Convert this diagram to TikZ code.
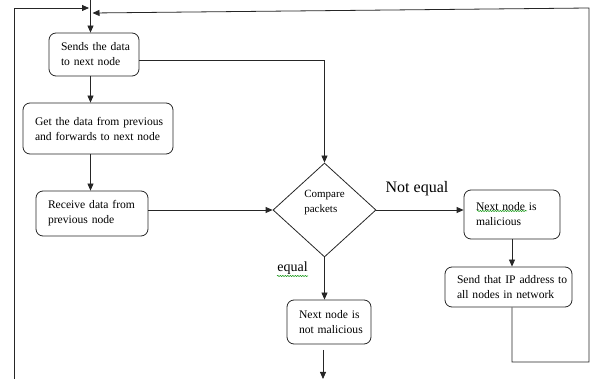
\documentclass[tikz,border=0pt]{standalone}
\usepackage{fontspec}
\setmainfont{Liberation Serif}
\usetikzlibrary{arrows.meta,shapes.geometric,decorations.pathmorphing}

\tikzset{
  flowbox/.style={draw=black!85, line width=0.8pt, rounded corners=7pt,
    align=left, inner xsep=12pt, inner ysep=0pt,
    font=\fontsize{11.6}{15}\selectfont},
  decision/.style={draw=black!85, line width=0.8pt, diamond, inner sep=0pt,
    align=left, font=\fontsize{11}{15}\selectfont},
  link/.style={draw=black!85, line width=0.8pt},
  flow/.style={link, -{Triangle[length=7pt,width=6pt]}},
  edgetext/.style={inner sep=0pt},
  spellmark/.style={draw=green!55!black, line width=0.5pt,
    decorate, decoration={snake, amplitude=0.6pt, segment length=2.5pt}}
}
% one unbreakable line of box text
\newcommand{\boxline}[1]{\mbox{#1}}

\begin{document}
\begin{tikzpicture}[x=1pt,y=-1pt]
  \useasboundingbox (0,0) rectangle (592,379);

  % process boxes
  \node[flowbox, text width=66pt, minimum height=43pt] (send)
    at (94,54.5) {\boxline{Sends the data}\\\boxline{to next node}};
  \node[flowbox, text width=126pt, minimum height=51pt] (fwd)
    at (98,128.5) {\boxline{Get the data from previous}\\\boxline{and forwards to next node}};
  \node[flowbox, text width=88pt, minimum height=45pt] (recv)
    at (92,213.5) {\boxline{Receive data from}\\\boxline{previous node}};
  \node[decision, minimum width=103pt, minimum height=94pt] (cmp)
    at (324.5,210) {\boxline{Compare}\\\boxline{packets}\\[2pt]};
  \node[flowbox, text width=72pt, minimum height=49pt] (mal)
    at (512,214.5) {\boxline{Next node is}\\\boxline{malicious}};
  \node[flowbox, text width=103pt, minimum height=40pt] (bcast)
    at (508.5,287) {\boxline{Send that IP address to}\\\boxline{all nodes in network}};
  \node[flowbox, align=center, text width=60pt, minimum height=44pt] (ok)
    at (329,322) {\boxline{Next node is}\\\boxline{not malicious}};

  % edge labels
  \node[edgetext, font=\fontsize{16}{16}\selectfont] (ne) at (417,189) {Not equal};
  \node[edgetext, font=\fontsize{14}{14}\selectfont] (eq) at (292.5,268) {equal};

  % spelling marks under words
  \draw[spellmark] (277,276) -- (308,276);
  \draw[spellmark] (477,211) -- (527,211);

  % helper points for the loops
  \coordinate (top) at (90.5,0);
  \coordinate (ltip) at (89,8);
  \coordinate (lcorner) at (14,8);
  \coordinate (lbot) at (14,379);
  \coordinate (rtip) at (92.5,13);
  \coordinate (rtop) at (589,8);
  \coordinate (rbot) at (589,362);
  \coordinate (bcbot) at (mal.south |- rbot);
  \coordinate (okout) at (323,350);
  \coordinate (okend) at (323,379);

  % main flow
  \draw[flow] (top) -- (top |- send.north);
  \draw[flow] (send.south -| top) -- (fwd.north -| top);
  \draw[flow] (fwd.south -| top) -- (recv.north -| top);
  \draw[flow] (recv.east |- cmp.west) -- (cmp.west);
  \draw[flow] ([yshift=-5.5pt]send.east) -| (cmp.north);
  \draw[flow] (cmp.east) -- (cmp.east -| mal.west);
  \draw[flow] (mal.south) -- (mal.south |- bcast.north);
  \draw[flow] (cmp.south) -- (cmp.south |- ok.north);
  \draw[flow] (okout) -- (okend);

  % feedback loops
  \draw[flow] (lbot) -- (lcorner) -- (ltip);
  \draw[flow] (mal.south |- bcast.south) -- (bcbot) -- (rbot) -- (rtop) -- (rtip);
\end{tikzpicture}
\end{document}
